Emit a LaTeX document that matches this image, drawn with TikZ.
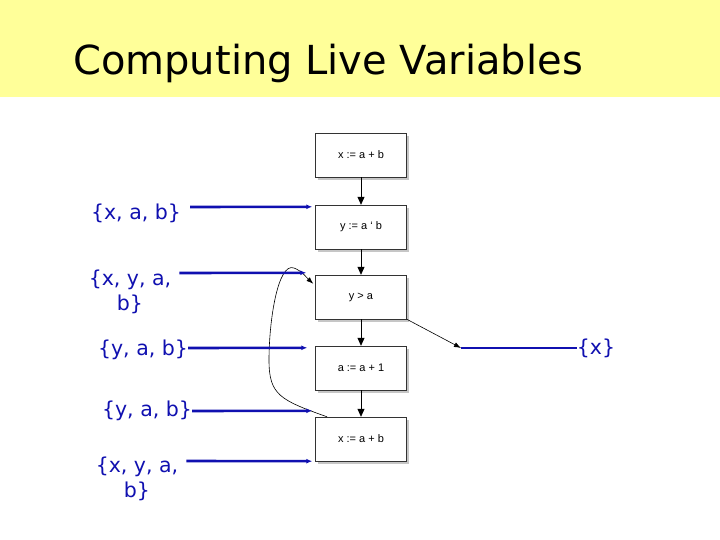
\documentclass[tikz,border=0pt]{standalone}
\usepackage{fontspec}
\setmainfont{DejaVu Sans}
\newfontfamily\boxfont{Liberation Sans}
\usetikzlibrary{arrows.meta,shadows}
\definecolor{titlebg}{RGB}{255,255,153}
\definecolor{setblue}{RGB}{16,16,176}
\tikzset{flow/.style={-{Triangle[length=8pt,width=7pt]}, line width=0.8pt},
  live/.style={setblue, line width=2.6pt, -{Latex[length=6pt,width=5pt]}},
  blk/.style={draw=black!80, fill=white, minimum width=91pt, minimum height=44pt,
    font=\boxfont\fontsize{11}{13}\selectfont,
    drop shadow={shadow xshift=2pt, shadow yshift=-3pt, opacity=0.45}},
  lvset/.style={setblue, align=center, font=\fontsize{20.5}{25}\selectfont, inner sep=0pt}}

\begin{document}
\begin{tikzpicture}[x=1pt, y=-1pt]
  \useasboundingbox (0,0) rectangle (720,540);
  \fill[titlebg] (0,0) rectangle (720,97);
  \node[anchor=base west, font=\fontsize{40}{46}\selectfont, inner sep=0pt] (title) at (73,75) {Computing Live Variables};
  % the five statements
  \node[blk] (b1) at (361,155) {x := a + b};
  \node[blk] (b2) at (361,227) {y := a \textquoteleft{} b};
  \node[blk] (b3) at (361,297) {y > a};
  \node[blk] (b4) at (361,368) {a := a + 1};
  \node[blk] (b5) at (361,439) {x := a + b};
  \foreach \a/\b in {b1/b2,b2/b3,b3/b4,b4/b5}
    \draw[flow] (\a) -- (\b);
  % loop back edge and exit
  \draw[-{Latex[length=7pt,width=5pt]}, line width=0.6pt] ([xshift=-34pt]b5.north)
    .. controls (280,400) and (269,395) .. (269,360)
    .. controls (269,320) and (278,262) .. (294,268)
    .. controls (302,271) and (307,278) .. ([xshift=-2pt,yshift=-9pt]b3.north west);
  \coordinate (exit) at (461,348);
  \draw[-{Latex[length=7pt,width=5pt]}, line width=0.6pt] (b3.south east) -- (exit);
  % live sets
  \node[lvset] (s1) at (136,213) {\{x, a, b\}};
  \node[lvset] (s2) at (130,292) {\{x, y, a,\\ b\}};
  \node[lvset] (s3) at (143,350) {\{y, a, b\}};
  \node[lvset] (s4) at (147,411) {\{y, a, b\}};
  \node[lvset] (s5) at (137,479) {\{x, y, a,\\ b\}};
  \node[lvset] (sx) at (596,348) {\{x\}};
  \draw[live] ([xshift=9pt,yshift=6pt]s1.east) -- ([xshift=-3pt,yshift=-2pt]b2.north west);
  \draw[live] ([xshift=8pt,yshift=19pt]s2.east) -- ([xshift=-9pt,yshift=2pt]b3.north west);
  \draw[live] ([yshift=2pt]s3.east) -- ([xshift=-8pt,yshift=-2pt]b4.north west);
  \draw[live] (s4.east) -- ([xshift=-3pt,yshift=6pt]b5.north west);
  \draw[live] ([xshift=8pt,yshift=18pt]s5.east) -- ([xshift=-3pt]b5.south west);
  \draw[setblue, line width=2.6pt] (sx.west) -- (exit);
\end{tikzpicture}
\end{document}
